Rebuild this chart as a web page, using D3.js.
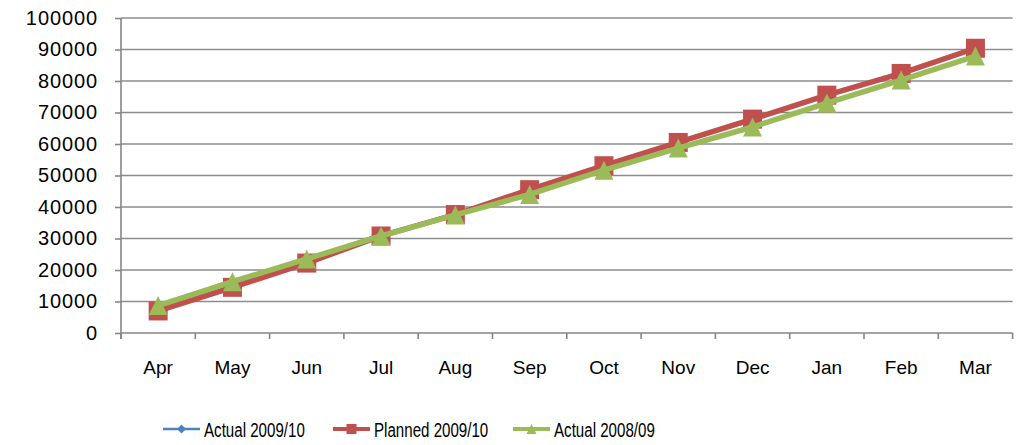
<!DOCTYPE html>
<html>
<head>
<meta charset="utf-8">
<script src="https://cdn.jsdelivr.net/npm/d3@7"></script>
<style>
  body { margin: 0; background: #fff; }
  svg { display: block; }
  .tick text { font-family: "Liberation Sans", Arial, sans-serif; font-size: 19px; fill: #000; }
  .y-axis .tick text { font-size: 20px; letter-spacing: 0.9px; }
  .legend text { font-family: "Liberation Sans", Arial, sans-serif; font-size: 21px; fill: #000; }
</style>
</head>
<body>
<svg width="1027" height="445"></svg>
<script>
var months = ['Apr', 'May', 'Jun', 'Jul', 'Aug', 'Sep', 'Oct', 'Nov', 'Dec', 'Jan', 'Feb', 'Mar']
var actual0910 = [7500, 15000, 23000, 31500]
var planned0910 = [7000, 14500, 22200, 30800, 37600, 45500, 53100, 60500, 67900, 75500, 82400, 90400]
var actual0809 = [8700, 16300, 23500, 30800, 37500, 44000, 51700, 58700, 65400, 73000, 80300, 87900]
var yTicks = [0, 10000, 20000, 30000, 40000, 50000, 60000, 70000, 80000, 90000, 100000]

var series = [
  { name: 'Actual 2009/10', values: actual0910, color: '#4F81BD', width: 2.5, shape: 'diamond' },
  { name: 'Planned 2009/10', values: planned0910, color: '#C0504D', width: 5.5, shape: 'square' },
  { name: 'Actual 2008/09', values: actual0809, color: '#9BBB59', width: 5.5, shape: 'triangle' }
]

var svg = d3.select('svg')
var plotLeft = 121, plotRight = 1012.6, plotTop = 18, plotBottom = 333

var x = d3.scaleBand().domain(months).range([plotLeft, plotRight])
var y = d3.scaleLinear().domain([0, 100000]).range([plotBottom, plotTop])

// gridlines
svg.append('g')
  .selectAll('line')
  .data(yTicks.filter(function (d) { return d > 0 }))
  .enter().append('line')
    .attr('x1', plotLeft).attr('x2', plotRight)
    .attr('y1', function (d) { return y(d) }).attr('y2', function (d) { return y(d) })
    .attr('stroke', '#8c8c8c').attr('stroke-width', 1.6)

var yAxis = svg.append('g')
  .attr('class', 'y-axis')
  .attr('transform', 'translate(' + plotLeft + ',0)')
  .call(d3.axisLeft(y).tickValues(yTicks).tickSize(6).tickPadding(17).tickFormat(d3.format('d')))
yAxis.selectAll('line, path').attr('stroke', '#868686').attr('stroke-width', 1.6)
yAxis.select('.domain').attr('d', 'M0,' + (plotBottom + 6) + 'V' + plotTop)

var xAxis = svg.append('g')
  .attr('transform', 'translate(0,' + plotBottom + ')')
  .call(d3.axisBottom(x).tickSize(0).tickPadding(28))
xAxis.select('.domain').attr('stroke', '#868686').attr('stroke-width', 1.6).attr('d', 'M' + plotLeft + ',0H' + plotRight)
xAxis.selectAll('.boundary')
  .data(d3.range(months.length + 1))
  .enter().append('line')
    .attr('class', 'boundary')
    .attr('x1', function (i) { return plotLeft + i * x.step() })
    .attr('x2', function (i) { return plotLeft + i * x.step() })
    .attr('y1', 0).attr('y2', 6)
    .attr('stroke', '#868686').attr('stroke-width', 1.6)

var line = d3.line()
  .x(function (d, i) { return x(months[i]) + x.bandwidth() / 2 })
  .y(function (d) { return y(d) })

function marker (g, shape, color, size) {
  if (shape === 'square') {
    g.append('rect').attr('x', -size / 2).attr('y', -size / 2).attr('width', size).attr('height', size).attr('fill', color)
  } else if (shape === 'triangle') {
    g.append('path').attr('d', 'M0,' + (-size / 2) + 'L' + (size / 2) + ',' + (size / 2) + 'L' + (-size / 2) + ',' + (size / 2) + 'Z').attr('fill', color)
  } else {
    g.append('path').attr('d', 'M0,' + (-size / 2) + 'L' + (size / 2) + ',0L0,' + (size / 2) + 'L' + (-size / 2) + ',0Z').attr('fill', color)
  }
}

series.forEach(function (s) {
  var g = svg.append('g')
  g.append('path')
    .datum(s.values)
    .attr('d', line)
    .attr('fill', 'none')
    .attr('stroke', s.color)
    .attr('stroke-width', s.width)
    .attr('stroke-linejoin', 'round')
  s.values.forEach(function (v, i) {
    var m = g.append('g')
      .attr('transform', 'translate(' + (x(months[i]) + x.bandwidth() / 2) + ',' + y(v) + ')')
    marker(m, s.shape, s.color, s.shape === 'diamond' ? 10 : 19)
  })
})

// legend (narrow lettering, squeezed horizontally)
var legendX = [163, 333, 513]
var legend = svg.append('g').attr('class', 'legend')
series.forEach(function (s, i) {
  var g = legend.append('g').attr('transform', 'translate(' + legendX[i] + ',429)')
  g.append('line').attr('x1', 0).attr('x2', 37).attr('stroke', s.color).attr('stroke-width', s.shape === 'diamond' ? 2.5 : 4)
  var m = g.append('g').attr('transform', 'translate(18.5,0)')
  marker(m, s.shape, s.color, s.shape === 'diamond' ? 9 : 10)
  g.append('text').attr('transform', 'translate(41,8) scale(0.72,1)').text(s.name)
})
</script>
</body>
</html>
